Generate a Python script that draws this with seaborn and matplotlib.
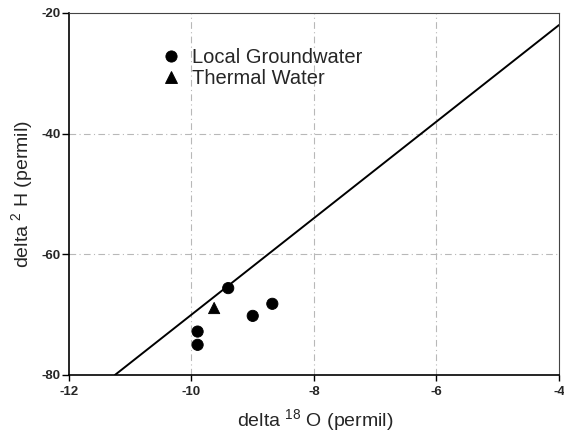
import numpy as np
import pandas as pd
import matplotlib
matplotlib.use("Agg")
import matplotlib.pyplot as plt
import seaborn as sns

# Data
local_d18O = [-9.9, -9.9, -9.4, -9.0, -8.68]
local_d2H = [-72.8, -75.0, -65.6, -70.2, -68.2]
thermal_d18O = [-9.63]
thermal_d2H = [-68.9]
# Global meteoric water line: d2H = 8*d18O + 10
gmwl_slope = 8.0
gmwl_intercept = 10.0
gmwl_x = [-11.25, -4.0]

xticks = [-12, -10, -8, -6, -4]
yticks = [-80, -60, -40, -20]

sns.set_theme(style="white")
plt.rcParams['font.family'] = ['Liberation Sans', 'DejaVu Sans']
plt.rcParams['mathtext.fontset'] = 'custom'
plt.rcParams['mathtext.rm'] = 'Liberation Sans'
plt.rcParams['mathtext.it'] = 'Liberation Sans'

df = pd.DataFrame({
    'd18O': local_d18O + thermal_d18O,
    'd2H': local_d2H + thermal_d2H,
    'group': ['Local Groundwater'] * len(local_d18O) + ['Thermal Water'] * len(thermal_d18O),
})
line_df = pd.DataFrame({'x': gmwl_x,
                        'y': [gmwl_slope * v + gmwl_intercept for v in gmwl_x]})

fig = plt.figure(figsize=(5.64, 4.43), dpi=100)
ax = fig.add_axes([0.1223, 0.1535, 0.8688, 0.8172])

# faint dash-dot grid
for xv in [-10, -8, -6]:
    ax.axvline(xv, color='#b8b8b8', lw=0.8, ls=(0, (6, 3, 1, 3)), zorder=0)
for yv in [-60, -40]:
    ax.axhline(yv, color='#b8b8b8', lw=0.8, ls=(0, (6, 3, 1, 3)), zorder=0)

sns.lineplot(data=line_df, x='x', y='y', color='black', lw=1.4, ax=ax, legend=False)
sns.scatterplot(data=df, x='d18O', y='d2H', style='group',
                markers={'Local Groundwater': 'o', 'Thermal Water': '^'},
                color='black', s=65, edgecolor='black', ax=ax)

ax.set_xlim(-12, -4)
ax.set_ylim(-80, -20)
ax.set_xticks(xticks)
ax.set_yticks(yticks)
ax.set_xticklabels([str(t) for t in xticks], fontweight='bold', fontsize=9.5)
ax.set_yticklabels([str(t) for t in yticks], fontweight='bold', fontsize=9.5)
ax.tick_params(axis='x', direction='out', length=4, width=1, color='black', pad=4, bottom=True)
ax.tick_params(axis='y', direction='out', length=5, width=1, color='black', pad=1, left=True)
for side in ['top', 'right']:
    ax.spines[side].set_visible(True)
    ax.spines[side].set_color('#444444')
    ax.spines[side].set_linewidth(0.8)
for side in ['left', 'bottom']:
    ax.spines[side].set_color('black')
    ax.spines[side].set_linewidth(1.2)

ax.set_xlabel(r'delta $^{18}$ O (permil)', fontsize=14, va='top')
ax.xaxis.set_label_coords(0.502, -0.088)
ax.set_ylabel(r'delta $^{2}$ H (permil)', fontsize=14, va='center')
ax.yaxis.set_label_coords(-0.096, 0.5)

leg = ax.legend(loc='upper left', bbox_to_anchor=(0.172, 0.925), frameon=False,
                fontsize=14.5, handletextpad=0.5, labelspacing=0.1, borderaxespad=0,
                handlelength=1.0)
leg.set_title(None)

fig.savefig('out.png', dpi=100)
